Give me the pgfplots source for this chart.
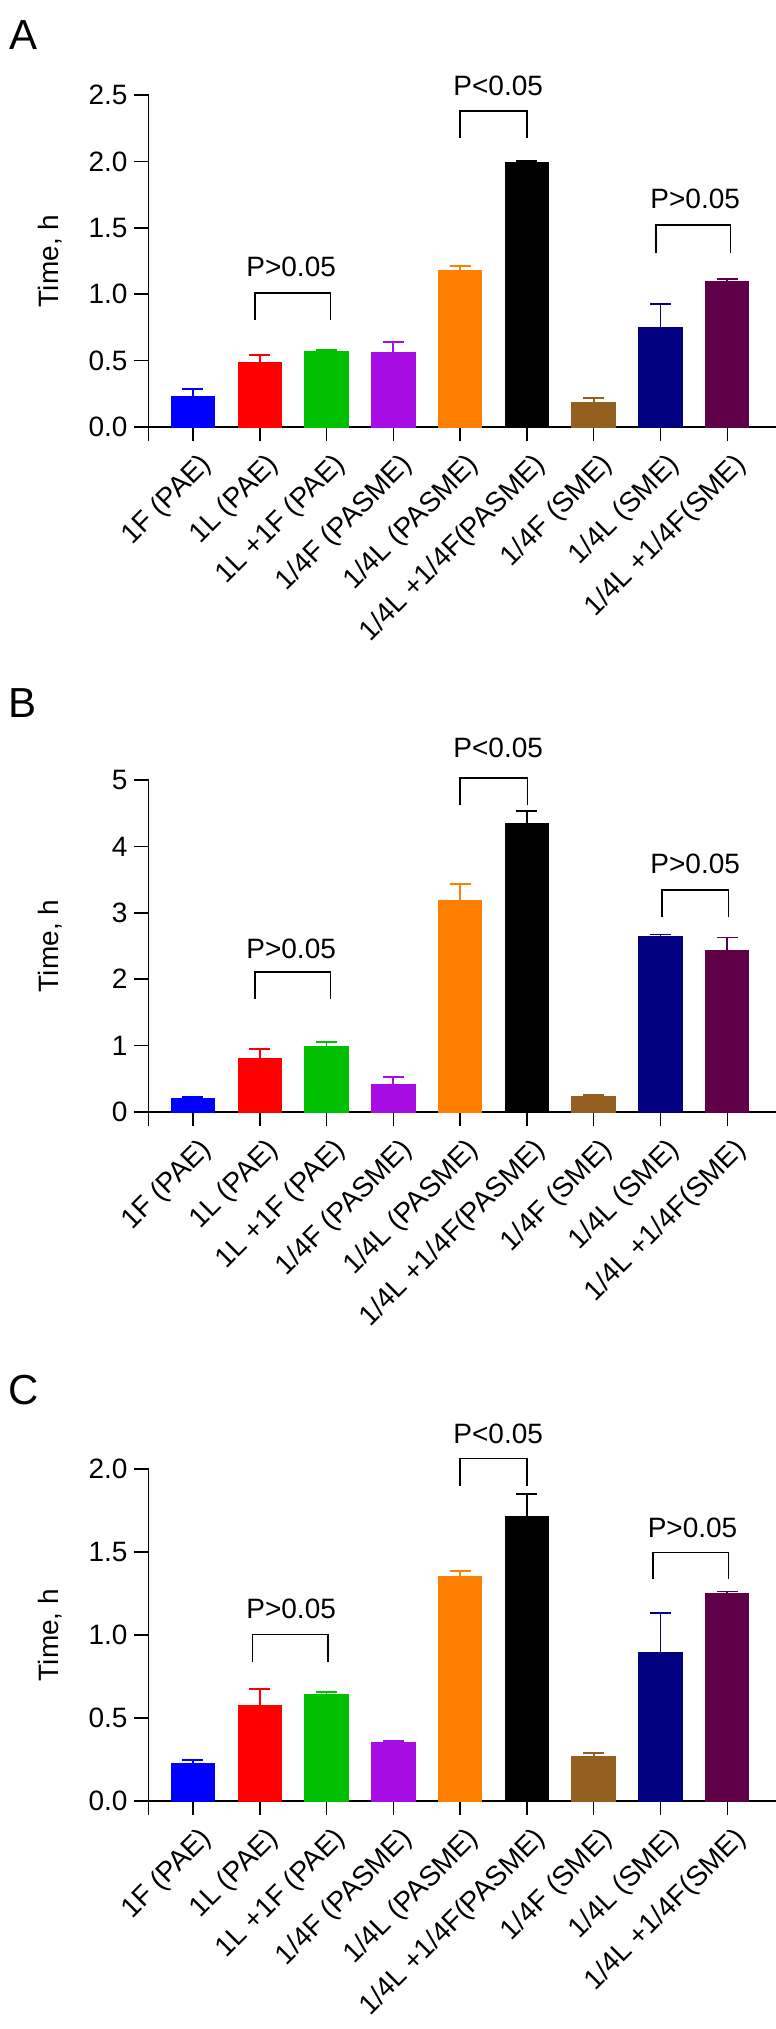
\documentclass[border=0pt]{standalone}
\usepackage{fontspec}
\setmainfont{Liberation Sans}
\usepackage{pgfplots}
\pgfplotsset{compat=1.18}

\definecolor{cBlue}{RGB}{0,0,255}
\definecolor{cRed}{RGB}{255,0,0}
\definecolor{cGreen}{RGB}{0,192,0}
\definecolor{cPurple}{RGB}{168,12,228}
\definecolor{cOrange}{RGB}{255,128,0}
\definecolor{cBlack}{RGB}{0,0,0}
\definecolor{cBrown}{RGB}{148,96,32}
\definecolor{cNavy}{RGB}{0,0,128}
\definecolor{cMaroon}{RGB}{96,0,72}

\newcommand{\fs}{\fontsize{14}{16}\selectfont}
\tikzset{pval/.style={font=\fs}}

\pgfplotsset{
  gbar/.style={ybar, bar width=0.65, bar shift=0pt, draw=#1, fill=#1, line width=0.5pt,
    error bars/.cd, y dir=plus, y explicit,
    error bar style={draw=#1, line width=0.9pt},
    error mark options={draw=#1, rotate=90, mark size=5.25pt, line width=0.9pt}},
  panel/.style={
    scale only axis, width=313.75pt, height=166pt,
    xmin=0.334, xmax=9.73, ymin=0, clip=false,
    axis lines=left, axis line style={-, line width=0.75pt},
    tick align=outside, major tick length=7pt,
    tick style={line width=0.75pt, black},
    xtick={1,...,9},
    xticklabels={1F (PAE), 1L (PAE), 1L +1F (PAE), 1/4F (PASME), 1/4L (PASME),
      1/4L +1/4F(PASME), 1/4F (SME), 1/4L (SME), 1/4L +1/4F(SME)},
    extra x ticks={0.334}, extra x tick labels={},
    xticklabel style={xshift=8pt, yshift=-9pt, rotate=45, anchor=east, font=\fs, inner sep=1pt},
    yticklabel style={font=\fs},
    /pgf/number format/assume math mode=true,
    ylabel={Time, h},
    ylabel style={at={(axis description cs:-0.157,0.5)}, anchor=center, font=\fs},
  },
}

\begin{document}
\begin{tikzpicture}[x=1pt,y=1pt]
\useasboundingbox (0,0) rectangle (388,-1014.5);

% ---- A ----
\node[font=\fontsize{21}{24}\selectfont] at (12,-17.5) {A};
\begin{axis}[panel, at={(74.25pt,-213.5pt)}, anchor=south west,
  ymax=2.5, ytick={0,0.5,...,2.5},
  yticklabel style={/pgf/number format/.cd, fixed, fixed zerofill, precision=1}]
  \addplot[gbar=cBlue]   coordinates {(1,0.231) +- (0,0.058)};
  \addplot[gbar=cRed]    coordinates {(2,0.487) +- (0,0.053)};
  \addplot[gbar=cGreen]  coordinates {(3,0.565) +- (0,0.015)};
  \addplot[gbar=cPurple] coordinates {(4,0.563) +- (0,0.078)};
  \addplot[gbar=cOrange] coordinates {(5,1.178) +- (0,0.033)};
  \addplot[gbar=cBlack]  coordinates {(6,1.990) +- (0,0.015)};
  \addplot[gbar=cBrown]  coordinates {(7,0.186) +- (0,0.030)};
  \addplot[gbar=cNavy]   coordinates {(8,0.746) +- (0,0.181)};
  \addplot[gbar=cMaroon] coordinates {(9,1.093) +- (0,0.023)};
  \draw[line width=0.75pt] (axis cs:1.93,0.804) |- (axis cs:3.06,1.010) -- (axis cs:3.06,0.804);
  \node[pval] at (axis cs:2.47,1.206) {P>0.05};
  \draw[line width=0.75pt] (axis cs:5.0,2.178) |- (axis cs:6.0,2.379) -- (axis cs:6.0,2.178);
  \node[pval] at (axis cs:5.57,2.57) {P<0.05};
  \draw[line width=0.75pt] (axis cs:7.93,1.314) |- (axis cs:9.05,1.520) -- (axis cs:9.05,1.314);
  \node[pval] at (axis cs:8.52,1.721) {P>0.05};
\end{axis}

% ---- B ----
\node[font=\fontsize{21}{24}\selectfont] at (11.5,-351.5) {B};
\begin{axis}[panel, at={(74.25pt,-556pt)}, anchor=south west,
  ymax=5, ytick={0,1,...,5}]
  \addplot[gbar=cBlue]   coordinates {(1,0.211) +- (0,0.020)};
  \addplot[gbar=cRed]    coordinates {(2,0.809) +- (0,0.141)};
  \addplot[gbar=cGreen]  coordinates {(3,0.990) +- (0,0.060)};
  \addplot[gbar=cPurple] coordinates {(4,0.417) +- (0,0.116)};
  \addplot[gbar=cOrange] coordinates {(5,3.191) +- (0,0.241)};
  \addplot[gbar=cBlack]  coordinates {(6,4.347) +- (0,0.186)};
  \addplot[gbar=cBrown]  coordinates {(7,0.236) +- (0,0.025)};
  \addplot[gbar=cNavy]   coordinates {(8,2.638) +- (0,0.035)};
  \addplot[gbar=cMaroon] coordinates {(9,2.437) +- (0,0.191)};
  \draw[line width=0.75pt] (axis cs:1.93,1.70) |- (axis cs:3.06,2.11) -- (axis cs:3.06,1.70);
  \node[pval] at (axis cs:2.47,2.46) {P>0.05};
  \draw[line width=0.75pt] (axis cs:5.0,4.62) |- (axis cs:6.01,5.03) -- (axis cs:6.01,4.62);
  \node[pval] at (axis cs:5.57,5.48) {P<0.05};
  \draw[line width=0.75pt] (axis cs:8.02,2.94) |- (axis cs:9.02,3.34) -- (axis cs:9.02,2.94);
  \node[pval] at (axis cs:8.52,3.73) {P>0.05};
\end{axis}

% ---- C ----
\node[font=\fontsize{21}{24}\selectfont] at (12,-695) {C};
\begin{axis}[panel, at={(74.25pt,-900.5pt)}, anchor=south west,
  ymax=2, ytick={0,0.5,...,2},
  yticklabel style={/pgf/number format/.cd, fixed, fixed zerofill, precision=1}]
  \addplot[gbar=cBlue]   coordinates {(1,0.225) +- (0,0.020)};
  \addplot[gbar=cRed]    coordinates {(2,0.577) +- (0,0.100)};
  \addplot[gbar=cGreen]  coordinates {(3,0.641) +- (0,0.014)};
  \addplot[gbar=cPurple] coordinates {(4,0.350) +- (0,0.012)};
  \addplot[gbar=cOrange] coordinates {(5,1.355) +- (0,0.032)};
  \addplot[gbar=cBlack]  coordinates {(6,1.717) +- (0,0.132)};
  \addplot[gbar=cBrown]  coordinates {(7,0.267) +- (0,0.024)};
  \addplot[gbar=cNavy]   coordinates {(8,0.894) +- (0,0.240)};
  \addplot[gbar=cMaroon] coordinates {(9,1.248) +- (0,0.014)};
  \draw[line width=0.75pt] (axis cs:1.89,0.838) |- (axis cs:3.02,1.003) -- (axis cs:3.02,0.838);
  \node[pval] at (axis cs:2.47,1.156) {P>0.05};
  \draw[line width=0.75pt] (axis cs:5.0,1.899) |- (axis cs:6.0,2.064) -- (axis cs:6.0,1.899);
  \node[pval] at (axis cs:5.57,2.209) {P<0.05};
  \draw[line width=0.75pt] (axis cs:7.89,1.335) |- (axis cs:9.02,1.497) -- (axis cs:9.02,1.335);
  \node[pval] at (axis cs:8.48,1.648) {P>0.05};
\end{axis}
\end{tikzpicture}
\end{document}
